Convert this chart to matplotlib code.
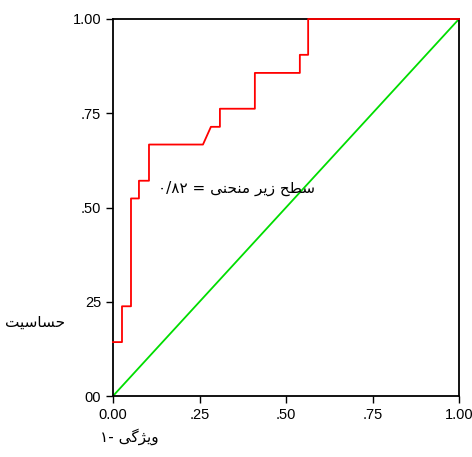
import matplotlib
matplotlib.use('Agg')
import matplotlib.pyplot as plt

# ROC curve points (1 - specificity, sensitivity)
fpr = [0.0, 0.026, 0.026, 0.052, 0.052, 0.075, 0.075, 0.104, 0.104,
       0.26, 0.283, 0.309, 0.309, 0.41, 0.41, 0.54, 0.54, 0.564, 0.564, 1.0]
tpr = [0.143, 0.143, 0.238, 0.238, 0.524, 0.524, 0.571, 0.571, 0.667,
       0.667, 0.714, 0.714, 0.762, 0.762, 0.857, 0.857, 0.905, 0.905, 1.0, 1.0]
ref_x = [0, 1]
ref_y = [0, 1]

ticks = [0, 0.25, 0.5, 0.75, 1.0]
xtick_labels = ['0.00', '.25', '.50', '.75', '1.00']
ytick_labels = ['00', '25', '.50', '.75', '1.00']

auc_text = 'سطح زیر منحنی'
auc_value = '۰/۸۲'
xlabel_word = 'ویژگی'
ylabel_word = 'حساسیت'

# simple arabic shaping (no bidi support in matplotlib)
forms = {
    'ا': ('\uFE8D', '\uFE8E', None, None),
    'ح': ('\uFEA1', '\uFEA2', '\uFEA3', '\uFEA4'),
    'خ': ('\uFEA5', '\uFEA6', '\uFEA7', '\uFEA8'),
    'ر': ('\uFEAD', '\uFEAE', None, None),
    'ز': ('\uFEAF', '\uFEB0', None, None),
    'ژ': ('\uFB8A', '\uFB8B', None, None),
    'س': ('\uFEB1', '\uFEB2', '\uFEB3', '\uFEB4'),
    'ط': ('\uFEC1', '\uFEC2', '\uFEC3', '\uFEC4'),
    'م': ('\uFEE1', '\uFEE2', '\uFEE3', '\uFEE4'),
    'ن': ('\uFEE5', '\uFEE6', '\uFEE7', '\uFEE8'),
    'و': ('\uFEED', '\uFEEE', None, None),
    'ی': ('\uFBFC', '\uFBFD', '\uFBFE', '\uFBFF'),
    'گ': ('\uFB92', '\uFB93', '\uFB94', '\uFB95'),
    'ت': ('\uFE95', '\uFE96', '\uFE97', '\uFE98'),
}


def shape(s):
    out = []
    for i, c in enumerate(s):
        if c not in forms:
            out.append(c)
            continue
        prev = s[i - 1] if i > 0 else ''
        nxt = s[i + 1] if i + 1 < len(s) else ''
        join_prev = prev in forms and forms[prev][2] is not None
        join_next = forms[c][2] is not None and nxt in forms
        iso, fin, ini, med = forms[c]
        if join_prev and join_next:
            out.append(med)
        elif join_prev:
            out.append(fin)
        elif join_next:
            out.append(ini)
        else:
            out.append(iso)
    return ''.join(out)[::-1]


plt.rcParams['font.family'] = ['Liberation Sans', 'DejaVu Sans']

fig = plt.figure(figsize=(4.72, 4.57), dpi=100)
ax = fig.add_axes([113 / 472, 1 - 396 / 457, 346 / 472, 377 / 457])

ax.plot(ref_x, ref_y, color='#00dd00', lw=1.3)
ax.plot(fpr, tpr, color='#ff0000', lw=1.3, zorder=3, clip_on=False)

ax.set_xlim(0, 1)
ax.set_ylim(0, 1)
ax.set_xticks(ticks)
ax.set_xticklabels(xtick_labels)
ax.set_yticks(ticks)
ax.set_yticklabels(ytick_labels)
ax.tick_params(direction='out', length=5, width=1, labelsize=10.5, colors='black')
for sp in ax.spines.values():
    sp.set_linewidth(1.3)

ax.text(0.13, 0.55, auc_value + ' = ' + shape(auc_text), fontsize=11,
        family=['DejaVu Sans'], transform=ax.transAxes, va='center', ha='left')

fig.text(100 / 472, 1 - 437 / 457, '۱- ' + shape(xlabel_word), fontsize=11,
         family=['DejaVu Sans'], va='center', ha='left')
fig.text(5 / 472, 1 - 322 / 457, shape(ylabel_word), fontsize=11,
         family=['DejaVu Sans'], va='center', ha='left')

fig.savefig('out.png', dpi=100)
